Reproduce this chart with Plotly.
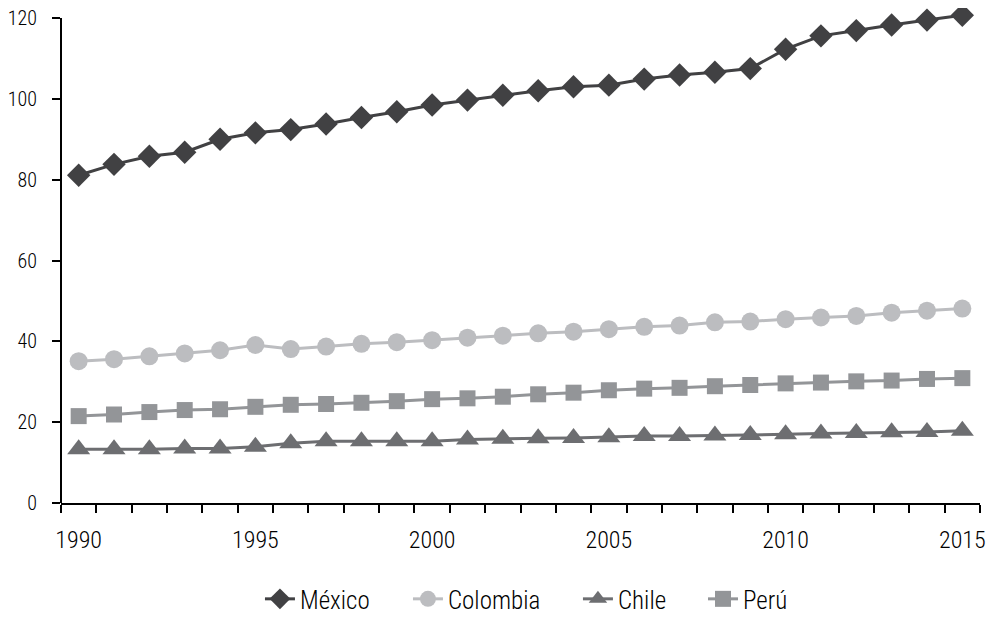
import plotly.graph_objects as go

years = list(range(1990, 2016))
mexico = [81.1, 83.8, 85.8, 86.8, 90.0, 91.6, 92.4, 93.8, 95.4, 96.8,
          98.5, 99.7, 100.9, 102.0, 103.0, 103.4, 104.9, 105.9, 106.6, 107.5,
          112.3, 115.6, 116.9, 118.3, 119.5, 120.7]
colombia = [35.1, 35.6, 36.3, 37.0, 37.8, 39.1, 38.1, 38.7, 39.4, 39.8,
            40.3, 40.9, 41.4, 42.0, 42.4, 43.0, 43.6, 43.9, 44.7, 44.9,
            45.5, 45.9, 46.3, 47.1, 47.6, 48.1]
chile = [13.3, 13.3, 13.3, 13.5, 13.5, 13.9, 14.8, 15.3, 15.3, 15.3,
         15.3, 15.7, 15.9, 16.0, 16.1, 16.3, 16.6, 16.6, 16.7, 16.8,
         17.0, 17.2, 17.3, 17.5, 17.6, 17.9]
peru = [21.5, 21.9, 22.5, 23.0, 23.2, 23.8, 24.3, 24.5, 24.8, 25.2,
        25.7, 25.9, 26.3, 26.9, 27.3, 27.9, 28.3, 28.5, 28.9, 29.2,
        29.6, 29.8, 30.1, 30.3, 30.7, 30.9]
x_labels = [1990, 1995, 2000, 2005, 2010, 2015]
y_ticks = [0, 20, 40, 60, 80, 100, 120]

# name, values, colour, marker, size, legend id, legend x (fraction of figure width)
series = [
    ("México", mexico, "#414143", "diamond", 18, "legend", 0.2545),
    ("Colombia", colombia, "#bcbdc0", "circle", 18, "legend2", 0.404),
    ("Chile", chile, "#6d6e71", "triangle-up", 20, "legend3", 0.5757),
    ("Perú", peru, "#939598", "square", 16, "legend4", 0.702),
]

FONT = "Roboto Condensed, Liberation Sans Narrow, sans-serif"

fig = go.Figure()
legends = {}
for name, vals, color, sym, size, leg, lx in series:
    fig.add_trace(go.Scatter(
        x=years, y=vals, name=name, mode="lines+markers",
        line=dict(color=color, width=3),
        marker=dict(symbol=sym, size=size, color=color, line=dict(width=0)),
        cliponaxis=False, legend=leg,
    ))
    legends[leg] = dict(x=lx, xref="container", xanchor="left",
                        y=0.031, yref="container", yanchor="middle",
                        font=dict(family=FONT, size=25, weight=300),
                        bgcolor="rgba(0,0,0,0)")

fig.update_layout(
    width=990, height=610,
    margin=dict(l=53, r=18, t=4, b=115, autoexpand=False),
    paper_bgcolor="white", plot_bgcolor="white",
    font=dict(family=FONT, size=24, color="black", weight=300),
    showlegend=True,
    **legends,
)
# vertical axis line drawn only up to the last tick (120)
fig.add_shape(type="line", xref="paper", x0=0, x1=0, yref="y", y0=0, y1=y_ticks[-1],
              line=dict(color="black", width=2), layer="above")
fig.update_xaxes(
    range=[1989.5, 2015.5], tickvals=x_labels, ticktext=[str(v) for v in x_labels],
    ticks="outside", ticklen=8, tickcolor="rgba(0,0,0,0)",
    showline=True, linecolor="black", linewidth=2, showgrid=False, zeroline=False,
    minor=dict(tickvals=[y - 0.5 for y in years] + [2015.5], ticks="outside",
               ticklen=8, tickwidth=2, tickcolor="black", showgrid=False),
    ticklabelstandoff=6, automargin=False, ticklabeloverflow="allow",
    tickfont=dict(size=24),
)
fig.update_yaxes(
    range=[0, 121.5], tickvals=y_ticks,
    ticks="outside", ticklen=8, tickwidth=2, tickcolor="black",
    showline=False, showgrid=False, zeroline=False,
    ticklabelstandoff=11, automargin=False, ticklabeloverflow="allow",
    tickfont=dict(size=20),
)

fig.write_html("out.html")
